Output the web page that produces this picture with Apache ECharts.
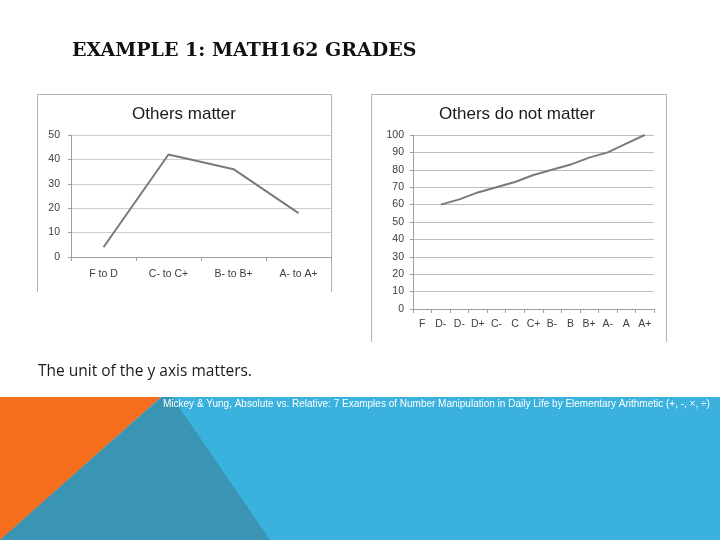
<!DOCTYPE html>
<html>
<head>
	<meta charset="UTF-8">
	<title>Example 1: Math162 grades</title>
	<script src="https://cdn.jsdelivr.net/npm/echarts@6/dist/echarts.min.js"></script>
	<style>
		html, body { margin: 0; padding: 0; background: #fff; }
		#main { width: 720px; height: 540px; }
	</style>
</head>
<body>
<div id="main"></div>
<script>
	// chart 1: bands of grades
	var bandNames = ['F to D', 'C- to C+', 'B- to B+', 'A- to A+'];
	var bandValues = [4, 42, 36, 18];
	var bandTicks = [0, 50, 10];

	// chart 2: single grades
	var gradeNames = ['F', 'D-', 'D-', 'D+', 'C-', 'C', 'C+', 'B-', 'B', 'B+', 'A-', 'A', 'A+'];
	var gradeValues = [null, 60, 63, 67, 70, 73, 77, 80, 83, 87, 90, 95, 100];
	var gradeTicks = [0, 100, 10];

	var labelStyle = { color: '#404040', fontSize: 10.5, fontFamily: 'Liberation Sans' };

	function frame(x1, y1, x2, y2) {
		return {
			type: 'polyline', silent: true,
			shape: { points: [[x1, y2], [x1, y1], [x2, y1], [x2, y2]] },
			style: { stroke: '#b4b4b4', lineWidth: 1, fill: null }
		};
	}

	var myChart = echarts.init(document.getElementById('main'));

	var option = {
		backgroundColor: '#fff',
		animation: false,
		title: [
			{ text: 'Others matter', left: 179, top: 101, textAlign: 'center',
				textStyle: { fontSize: 17, fontWeight: 'normal', color: '#1a1a1a', fontFamily: 'Liberation Sans' } },
			{ text: 'Others do not matter', left: 512, top: 101, textAlign: 'center',
				textStyle: { fontSize: 17, fontWeight: 'normal', color: '#1a1a1a', fontFamily: 'Liberation Sans' } }
		],
		grid: [
			{ left: 71, right: 389, top: 135, bottom: 283 },
			{ left: 413, right: 66, top: 135, bottom: 231 }
		],
		xAxis: [
			{
				type: 'category', gridIndex: 0, data: bandNames, boundaryGap: true,
				axisLine: { lineStyle: { color: '#a0a0a0' } },
				axisTick: { show: true, length: 4, lineStyle: { color: '#a0a0a0' } },
				axisLabel: Object.assign({ margin: 12, interval: 0 }, labelStyle)
			},
			{
				type: 'category', gridIndex: 1, data: gradeNames, boundaryGap: true,
				axisLine: { lineStyle: { color: '#a0a0a0' } },
				axisTick: { show: true, length: 4, lineStyle: { color: '#a0a0a0' } },
				axisLabel: Object.assign({ margin: 10, interval: 0 }, labelStyle)
			}
		],
		yAxis: [
			{
				type: 'value', gridIndex: 0, min: bandTicks[0], max: bandTicks[1], interval: bandTicks[2],
				axisLine: { show: true, lineStyle: { color: '#a0a0a0' } },
				axisTick: { show: true, length: 3, lineStyle: { color: '#a0a0a0' } },
				splitLine: { lineStyle: { color: '#cfcfcf' } },
				axisLabel: Object.assign({ margin: 11 }, labelStyle)
			},
			{
				type: 'value', gridIndex: 1, min: gradeTicks[0], max: gradeTicks[1], interval: gradeTicks[2],
				axisLine: { show: true, lineStyle: { color: '#a0a0a0' } },
				axisTick: { show: true, length: 3, lineStyle: { color: '#a0a0a0' } },
				splitLine: { lineStyle: { color: '#bdbdbd' } },
				axisLabel: Object.assign({ margin: 9 }, labelStyle)
			}
		],
		series: [
			{
				type: 'line', xAxisIndex: 0, yAxisIndex: 0, data: bandValues,
				symbol: 'none', lineStyle: { color: '#7a7a7a', width: 2 }
			},
			{
				type: 'line', xAxisIndex: 1, yAxisIndex: 1, data: gradeValues,
				symbol: 'none', lineStyle: { color: '#7a7a7a', width: 2 }
			}
		],
		graphic: [
			frame(37.5, 94.5, 331.5, 292),
			frame(371.5, 94.5, 666.5, 342),
			// slide background shapes
			{ type: 'polygon', silent: true, z: -1,
				shape: { points: [[0, 397], [720, 397], [720, 540], [0, 540]] },
				style: { fill: '#3bb1de' } },
			{ type: 'polygon', silent: true, z: 0,
				shape: { points: [[162, 397], [172, 397], [270, 540], [0, 540]] },
				style: { fill: '#3a94b3' } },
			{ type: 'polygon', silent: true, z: 1,
				shape: { points: [[0, 397], [161, 397], [0, 540]] },
				style: { fill: '#f46e1e' } },
			{ type: 'text', silent: true, z: 2, left: 72, top: 42,
				style: { text: 'EXAMPLE 1: MATH162 GRADES', fill: '#111', fontSize: 19, fontWeight: 'bold', fontFamily: 'DejaVu Serif' } },
			{ type: 'text', silent: true, z: 2, left: 38, top: 364,
				style: { text: 'The unit of the y axis matters.', fill: '#1a1a1a', fontSize: 15.5, fontFamily: 'Open Sans' } },
			{ type: 'text', silent: true, z: 2, left: 163, top: 399,
				style: { text: 'Mickey & Yung, Absolute vs. Relative: 7 Examples of Number Manipulation in Daily Life by Elementary Arithmetic (+, -, \u00d7, \u00f7)', fill: '#fff', fontSize: 10, fontFamily: 'Liberation Sans' } }
		]
	};

	myChart.setOption(option);
</script>
</body>
</html>
